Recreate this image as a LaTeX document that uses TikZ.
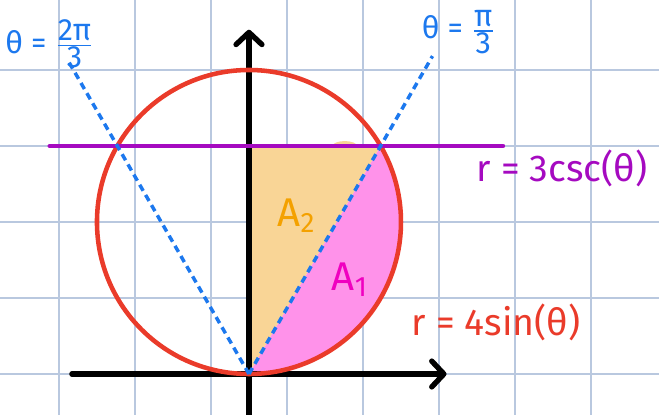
\documentclass[tikz,border=0pt]{standalone}
\usepackage{fontspec}
\setmainfont{Fira Sans}
\usetikzlibrary{arrows.meta}
\definecolor{gridc}{HTML}{B9C8DF}
\definecolor{circc}{HTML}{EA3B2A}
\definecolor{purp}{HTML}{A50AC0}
\definecolor{dashb}{HTML}{1C78EE}
\definecolor{fillo}{HTML}{F9D596}
\definecolor{fillp}{HTML}{FF92EA}
\definecolor{txto}{HTML}{F4A100}
\definecolor{txtp}{HTML}{F000C0}
\begin{document}
\begin{tikzpicture}[x=1cm,y=1cm,
  gridline/.style={gridc, line width=0.55pt},
  axisline/.style={black, line width=2pt, line cap=round,
    -{Straight Barb[length=0.16cm,width=0.34cm,line cap=round,line join=round]}},
  curveline/.style={circc, line width=1.7pt},
  cscline/.style={purp, line width=1.8pt, line cap=round},
  rayline/.style={dashb, line width=1.3pt, dash pattern=on 2.6pt off 1.8pt},
  biglabel/.style={font=\fontsize{14}{16}\selectfont, inner sep=0pt},
  anglelabel/.style={text=dashb, font=\fontsize{11.5}{13}\selectfont, inner sep=0pt},
  arealabel/.style={font=\fontsize{15}{17}\selectfont, inner sep=0pt}]
\useasboundingbox (-3.276,-0.539) rectangle (5.395,4.921);
% grid
\foreach \x in {-2.5,-1.5,...,4.5} \draw[gridline] (\x,-0.539) -- (\x,4.921);
\foreach \y in {0,...,4} \draw[gridline] (-3.276,\y) -- (5.395,\y);
% key points
\coordinate (O) at (0,0);
\coordinate (T) at (0,3);
\coordinate (P) at ({sqrt(3)},3);
\coordinate (C) at (0,2);
\coordinate (R1) at (60:4.83);
\coordinate (R2) at (120:4.75);
\coordinate (XL) at (-2.33,0);
\coordinate (XR) at (2.6,0);
\coordinate (YB) at (0,-0.56);
\coordinate (YT) at (0,4.53);
\coordinate (HL) at (-2.62,3);
\coordinate (HR) at (3.34,3);
% regions
\fill[fillo] (O) -- (T) -- (P) -- cycle;
\fill[fillo] (1.26,3.0) ellipse[x radius=0.16, y radius=0.065];
\fill[fillp] (O) -- (P) arc[start angle=30, end angle=-90, radius=2] -- cycle;
% axes
\draw[axisline] (XL) -- (XR);
\draw[axisline] (YB) -- (YT);
% curves
\draw[curveline] (C) circle[radius=2];
\draw[cscline] (HL) -- (HR);
\draw[rayline] (O) -- (R1);
\draw[rayline] (O) -- (R2);
% labels
\node[anglelabel] (t2) at (-2.62,4.34) {θ = $\frac{\mbox{2π}}{\mbox{3}}$};
\node[anglelabel] (t1) at (2.76,4.50) {θ = $\frac{\mbox{π}}{\mbox{3}}$};
\node[biglabel, text=purp] (lcsc) at (4.12,2.71) {r = 3csc(θ)};
\node[biglabel, text=circc] (lsin) at (3.25,0.68) {r = 4sin(θ)};
\node[arealabel, text=txto] (a2) at (0.63,2.08) {A\textsubscript{2}};
\node[arealabel, text=txtp] (a1) at (1.33,1.24) {A\textsubscript{1}};
\end{tikzpicture}
\end{document}
